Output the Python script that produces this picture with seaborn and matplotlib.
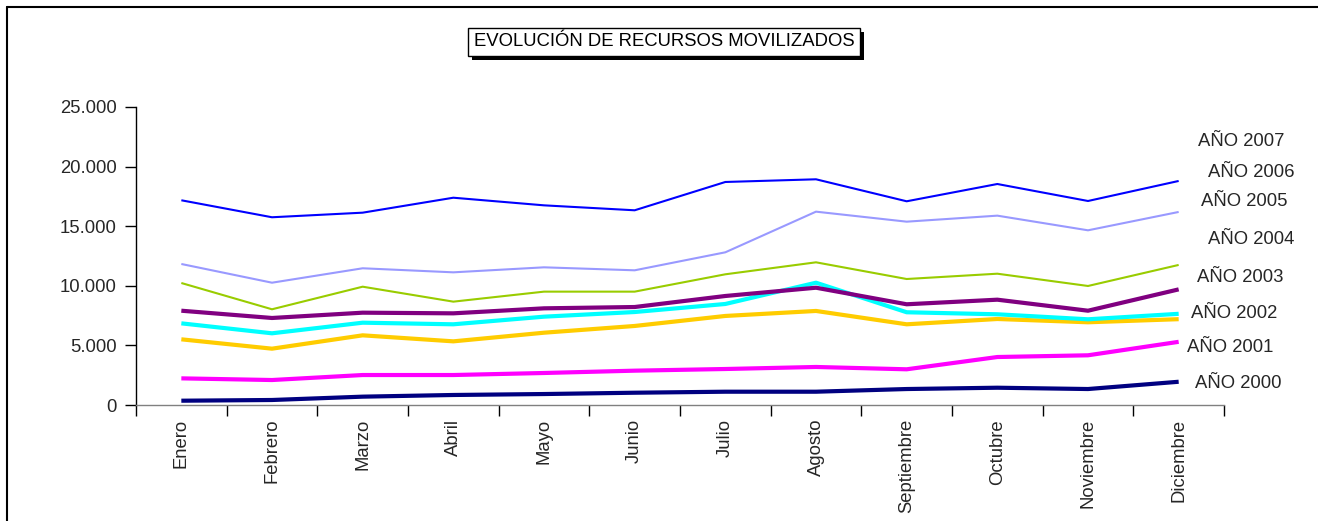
import numpy as np
import pandas as pd
import matplotlib
matplotlib.use("Agg")
import matplotlib.pyplot as plt
from matplotlib.ticker import FixedLocator, FuncFormatter
from matplotlib.patches import Rectangle
import seaborn as sns

# datos
meses = ['Enero', 'Febrero', 'Marzo', 'Abril', 'Mayo', 'Junio', 'Julio',
         'Agosto', 'Septiembre', 'Octubre', 'Noviembre', 'Diciembre']

anio_2000 = [360, 420, 700, 840, 920, 1030, 1115, 1115, 1340, 1450, 1340, 1950]
anio_2001 = [2235, 2095, 2515, 2515, 2685, 2880, 3020, 3190, 2995, 4025, 4170, 5300]
anio_2002 = [5510, 4725, 5845, 5340, 6065, 6630, 7470, 7890, 6770, 7215, 6940, 7200]
anio_2003 = [6850, 6015, 6905, 6770, 7410, 7800, 8475, 10260, 7780, 7610, 7190, 7650]
anio_2004 = [7910, 7300, 7745, 7690, 8110, 8220, 9145, 9840, 8450, 8835, 7910, 9700]
anio_2005 = [10235, 8030, 9925, 8670, 9510, 9510, 10965, 11970, 10570, 11015, 9985, 11750]
anio_2006 = [11830, 10260, 11470, 11130, 11550, 11300, 12810, 16220, 15380, 15885, 14655, 16195]
anio_2007 = [17175, 15750, 16135, 17390, 16750, 16335, 18710, 18935, 17090, 18540, 17115, 18795]

series = {
    'AÑO 2000': anio_2000,
    'AÑO 2001': anio_2001,
    'AÑO 2002': anio_2002,
    'AÑO 2003': anio_2003,
    'AÑO 2004': anio_2004,
    'AÑO 2005': anio_2005,
    'AÑO 2006': anio_2006,
    'AÑO 2007': anio_2007,
}

colores = {
    'AÑO 2000': '#000080', 'AÑO 2001': '#FF00FF', 'AÑO 2002': '#FFCC00',
    'AÑO 2003': '#00FFFF', 'AÑO 2004': '#800080', 'AÑO 2005': '#99CC00',
    'AÑO 2006': '#9999FF', 'AÑO 2007': '#0000FF',
}
grosor = {
    'AÑO 2000': 3.0, 'AÑO 2001': 3.0, 'AÑO 2002': 3.0, 'AÑO 2003': 3.0,
    'AÑO 2004': 3.0, 'AÑO 2005': 1.5, 'AÑO 2006': 1.5, 'AÑO 2007': 1.5,
}

# posición (píxeles) de cada etiqueta a la derecha
etiqueta_pos = {
    'AÑO 2007': (1198, 141), 'AÑO 2006': (1208, 172), 'AÑO 2005': (1201, 202),
    'AÑO 2004': (1208, 239), 'AÑO 2003': (1197, 278), 'AÑO 2002': (1191, 314),
    'AÑO 2001': (1187, 347), 'AÑO 2000': (1195, 383),
}

df = pd.DataFrame([
    {'mes': i, 'serie': nombre, 'valor': v}
    for nombre, vals in series.items()
    for i, v in enumerate(vals)
])

sns.set_style("white")
plt.rcParams['font.family'] = ['Liberation Sans', 'DejaVu Sans']
FS = 13.3

W, H = 1318, 521
fig = plt.figure(figsize=(W / 100, H / 100), dpi=100)
ax = fig.add_axes([136 / W, 1 - 405 / H, (1224 - 136) / W, (405 - 107) / H])

for nombre in series:
    sns.lineplot(data=df[df['serie'] == nombre], x='mes', y='valor', ax=ax,
                 color=colores[nombre], linewidth=grosor[nombre],
                 solid_capstyle='butt', legend=False)

ax.set_xlim(-0.5, len(meses) - 0.5)
ax.set_ylim(0, 25000)
ax.set_xlabel('')
ax.set_ylabel('')

ax.yaxis.set_major_locator(FixedLocator([0, 5000, 10000, 15000, 20000, 25000]))
ax.yaxis.set_major_formatter(FuncFormatter(lambda v, p: f'{int(v):,}'.replace(',', '.')))
ax.set_xticks(range(len(meses)))
ax.set_xticklabels(meses, rotation=90, va='top', ha='center')
ax.xaxis.set_minor_locator(FixedLocator(np.arange(-0.5, len(meses), 1.0)))
ax.tick_params(axis='x', which='major', bottom=True, length=0, pad=10, labelsize=FS)
ax.tick_params(axis='x', which='minor', bottom=True, length=8, width=1,
               color='black', direction='out')
ax.tick_params(axis='y', which='major', left=True, length=8, width=1, color='black',
               direction='out', pad=6, labelsize=FS)

for lado in ['top', 'right']:
    ax.spines[lado].set_visible(False)
ax.spines['left'].set_color('black')
ax.spines['left'].set_linewidth(1)
ax.spines['bottom'].set_color('#808080')
ax.spines['bottom'].set_linewidth(1)
ax.grid(False)

for nombre, (px, py) in etiqueta_pos.items():
    fig.text(px / W, 1 - py / H, nombre, fontsize=FS, ha='left', va='center')

# título en recuadro con sombra
titulo = fig.text(664 / W, 1 - 42 / H, 'EVOLUCIÓN DE RECURSOS MOVILIZADOS',
                  fontsize=FS, ha='center', va='center', color='black', zorder=5,
                  bbox=dict(boxstyle='square,pad=0.3', facecolor='white',
                            edgecolor='black', linewidth=1))
fig.canvas.draw()
caja = titulo.get_bbox_patch().get_window_extent()
fig.add_artist(Rectangle(((caja.x0 + 4) / W, (caja.y0 - 4) / H), caja.width / W, caja.height / H,
                         transform=fig.transFigure, facecolor='black', edgecolor='none',
                         zorder=4))

# marco exterior (solo visible arriba e izquierda)
fig.add_artist(plt.Line2D([7 / W, 7 / W], [0, 1 - 7 / H], transform=fig.transFigure,
                          color='black', linewidth=1.5))
fig.add_artist(plt.Line2D([7 / W, 1], [1 - 7 / H, 1 - 7 / H], transform=fig.transFigure,
                          color='black', linewidth=1.5))

fig.savefig('out.png', dpi=100)
